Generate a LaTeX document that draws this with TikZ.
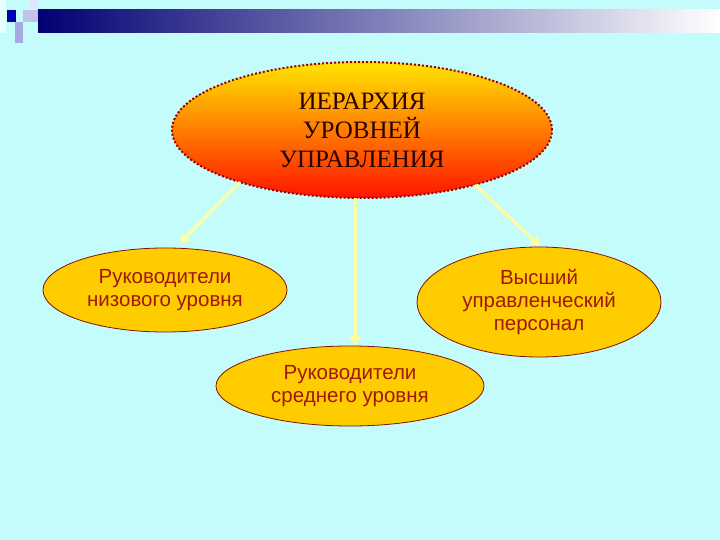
\documentclass[tikz,border=0pt]{standalone}
\usepackage{fontspec}
\setmainfont{Liberation Serif}
\newfontfamily\sansf{Liberation Sans}
\usetikzlibrary{shapes.geometric,arrows.meta}
\definecolor{bg}{HTML}{C4FCFC}
\definecolor{txtred}{HTML}{A01808}
\definecolor{arr}{HTML}{FFFFA0}
\definecolor{ell}{HTML}{FFCC00}
\tikzset{
  sub/.style={ellipse,draw=txtred!80!black,line width=0.8pt,fill=ell,font=\sansf\fontsize{20.5}{23}\selectfont,text=txtred,align=center,inner sep=0pt},
  conn/.style={draw=arr,line width=3pt,-{Triangle[width=11pt,length=9pt]}}
}
\begin{document}
\begin{tikzpicture}[x=1pt,y=-1pt]
\fill[bg] (0,0) rectangle (720,540);
\useasboundingbox (0,0) rectangle (720,540);
\shade[left color=blue!45!black,right color=white,shading angle=90] (38,10) rectangle (720,33);
\fill[white!60!bg] (0,0) rectangle (6,33);
\fill[blue!70!black] (7,10) rectangle (16,22);
\fill[blue!30!white!80!gray] (15,22) rectangle (23,43);
\fill[blue!20!white!85!gray] (23,10) rectangle (38,22);
\fill[blue!10!white] (30,0) rectangle (38,10);
\node[ellipse,minimum width=380pt,minimum height=136pt,inner sep=0pt,top color=yellow!80!orange,bottom color=red!85!orange,draw=red!60!black,line width=2pt,dotted,align=center,font=\fontsize{25}{29}\selectfont,text=black!85!red] (top) at (362,130) {ИЕРАРХИЯ\\УРОВНЕЙ\\УПРАВЛЕНИЯ};
\node[sub,minimum width=244pt,minimum height=84pt] (low) at (165,290) {Руководители\\низового уровня};
\node[sub,minimum width=244pt,minimum height=110pt] (high) at (539,302) {Высший\\управленческий\\персонал};
\node[sub,minimum width=268pt,minimum height=80pt] (mid) at (350,386) {Руководители\\среднего уровня};
\coordinate (a1) at (240,182); \coordinate (b1) at (180,243);
\coordinate (a2) at (355,198); \coordinate (b2) at (355,345);
\coordinate (a3) at (475,185); \coordinate (b3) at (540,246);
\draw[conn] (a1) -- (b1);
\draw[conn] (a2) -- (b2);
\draw[conn] (a3) -- (b3);
\end{tikzpicture}
\end{document}
